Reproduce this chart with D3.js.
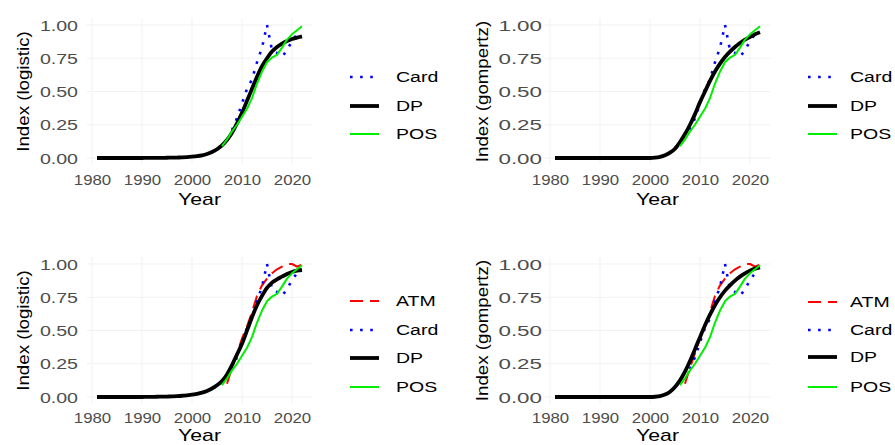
<!DOCTYPE html>
<html><head><meta charset="utf-8">
<script src="https://cdn.jsdelivr.net/npm/d3@7"></script>
<style>body{margin:0;background:#fff}svg{display:block}text{font-family:"Liberation Sans",Arial,sans-serif}</style>
</head><body>
<svg id="c" width="895" height="445"></svg>
<script>
// ---------------- data ----------------
const dpYears = [1981,1982,1983,1984,1985,1986,1987,1988,1989,1990,1991,1992,1993,1994,1995,1996,1997,1998,1999,2000,2001,2002,2003,2004,2005,2006,2007,2008,2009,2010,2011,2012,2013,2014,2015,2016,2017,2018,2019,2020,2021,2022];
const dpLogistic3 = [0,0,0,0,0,0,0,0,0,0,0.0005,0.0007,0.001,0.0013,0.0018,0.0025,0.0035,0.005,0.007,0.01,0.014,0.02,0.03,0.045,0.066,0.095,0.135,0.19,0.26,0.34,0.43,0.52,0.61,0.69,0.75,0.80,0.835,0.86,0.88,0.895,0.905,0.915];
const dpGompertz3 = [0,0,0,0,0,0,0,0,0,0,0,0,0,0,0,0,0,0,0,0,0.002,0.008,0.02,0.04,0.07,0.12,0.18,0.25,0.33,0.42,0.50,0.58,0.65,0.71,0.76,0.80,0.835,0.865,0.89,0.91,0.93,0.945];
const dpLogistic4 = [0,0,0,0,0,0,0,0,0,0,0.001,0.0013,0.0018,0.0025,0.0035,0.005,0.007,0.0095,0.013,0.017,0.024,0.033,0.046,0.064,0.088,0.12,0.17,0.24,0.32,0.40,0.50,0.60,0.69,0.76,0.82,0.86,0.885,0.905,0.925,0.94,0.95,0.955];
const dpGompertz4 = [0,0,0,0,0,0,0,0,0,0,0,0,0,0,0,0,0,0,0,0,0.002,0.007,0.018,0.04,0.075,0.125,0.19,0.27,0.36,0.45,0.54,0.62,0.69,0.75,0.80,0.84,0.875,0.905,0.93,0.95,0.965,0.975];

const cardYears = [2008,2009,2010,2011,2012,2013,2014,2015,2016,2017,2018,2019,2020,2021];
const cardValues = [0.21,0.30,0.41,0.52,0.59,0.72,0.83,1.00,0.81,0.79,0.76,0.81,0.88,0.93];

const posYears = [2006,2007,2008,2009,2010,2011,2012,2013,2014,2015,2016,2017,2018,2019,2020,2021,2022];
const posValues = [0.09,0.14,0.20,0.25,0.31,0.37,0.45,0.56,0.65,0.72,0.755,0.775,0.83,0.89,0.93,0.96,0.99];

const atmYears = [2007,2008,2009,2010,2011,2012,2013,2014,2015,2016,2017,2018,2019,2020,2021,2022];
const atmValues = [0.10,0.22,0.33,0.44,0.53,0.64,0.76,0.84,0.89,0.93,0.96,0.98,1.00,1.00,0.98,0.995];

const xTickValues = [1980,1990,2000,2010,2020];
const xTickLabels = ["1980","1990","2000","2010","2020"];
const yTickValues = [0,0.25,0.5,0.75,1];
const yTickLabels = ["0.00","0.25","0.50","0.75","1.00"];
const yTitles = ["Index (logistic)","Index (gompertz)","Index (logistic)","Index (gompertz)"];
const xTitle = "Year";

// ---------------- styles ----------------
const styles = {
  ATM:  {color:"#ff0000", width:2,   dash:"13,7"},
  Card: {color:"#0000ff", width:2.6, dash:"2.6,7.5"},
  DP:   {color:"#000000", width:3.8, dash:null},
  POS:  {color:"#00ee00", width:2,   dash:null}
};

function series(name, years, vals){ return {name, pts: years.map((y,i)=>({x:y, y:vals[i]}))}; }

const panels = [
  {left:86.75, right:312.25, top:18.35, bottom:164.65, yLabRight:78, ySx:1.4, yTitleX:23, xLabBase:185, titleBase:205, legX:350, legTextX:396, legY:[77,106,134],
   title:yTitles[0], series:[series("Card",cardYears,cardValues), series("DP",dpYears,dpLogistic3), series("POS",posYears,posValues)]},
  {left:544.75, right:770.25, top:18.35, bottom:164.65, yLabRight:542, ySx:1.6, yTitleX:482, xLabBase:185, titleBase:205, legX:808, legTextX:850, legY:[77,106,134],
   title:yTitles[1], series:[series("Card",cardYears,cardValues), series("DP",dpYears,dpGompertz3), series("POS",posYears,posValues)]},
  {left:86.75, right:312.25, top:257.35, bottom:403.65, yLabRight:78, ySx:1.4, yTitleX:23, xLabBase:423, titleBase:441, legX:350, legTextX:396, legY:[301,330,358,387],
   title:yTitles[2], series:[series("ATM",atmYears,atmValues), series("Card",cardYears,cardValues), series("DP",dpYears,dpLogistic4), series("POS",posYears,posValues)]},
  {left:544.75, right:770.25, top:257.35, bottom:403.65, yLabRight:542, ySx:1.6, yTitleX:482, xLabBase:423, titleBase:441, legX:808, legTextX:850, legY:[302,330,357,387],
   title:yTitles[3], series:[series("ATM",atmYears,atmValues), series("Card",cardYears,cardValues), series("DP",dpYears,dpGompertz4), series("POS",posYears,posValues)]}
];

const svg = d3.select("#c");

panels.forEach(p => {
  const x = d3.scaleLinear().domain([1978.95, 2024.05]).range([p.left, p.right]);
  const y = d3.scaleLinear().domain([-0.05, 1.05]).range([p.bottom, p.top]);
  const g = svg.append("g");

  // grid (very faint, as in the reference)
  const grid = g.append("g");
  grid.selectAll(".gx").data(xTickValues).join("line").attr("x1",d=>x(d)).attr("x2",d=>x(d)).attr("y1",p.top).attr("y2",p.bottom).attr("stroke","#f2f2f2").attr("stroke-width",1.1);
  grid.selectAll(".gy").data(yTickValues).join("line").attr("y1",d=>y(d)).attr("y2",d=>y(d)).attr("x1",p.left).attr("x2",p.right).attr("stroke","#f2f2f2").attr("stroke-width",1.1);

  // axes
  const xa = g.append("g").attr("transform",`translate(0,${p.xLabBase})`)
    .call(d3.axisBottom(x).tickValues(xTickValues).tickFormat((d,i)=>xTickLabels[i]).tickSize(0).tickPadding(0));
  xa.select(".domain").remove();
  xa.selectAll("text").attr("y",0).attr("dy",0).attr("fill","#4d4d4d").style("font-size","14px").attr("transform","scale(1.2,1)");

  const ya = g.append("g").attr("transform",`translate(${p.yLabRight},0)`)
    .call(d3.axisLeft(y).tickValues(yTickValues).tickFormat((d,i)=>yTickLabels[i]).tickSize(0).tickPadding(0));
  ya.select(".domain").remove();
  ya.selectAll("text").attr("x",0).attr("dy","0.36em").attr("fill","#4d4d4d").style("font-size","14px").attr("transform",`scale(${p.ySx},1)`);

  // titles
  g.append("text").attr("transform",`translate(${(p.left+p.right)/2},${p.titleBase}) scale(1.25,1)`)
    .attr("text-anchor","middle").style("font-size","17px").attr("fill","#000").text(xTitle);
  g.append("text").attr("transform",`translate(${p.yTitleX},${(p.top+p.bottom)/2}) rotate(-90) scale(1.1,1)`)
    .attr("text-anchor","middle").attr("dy","0.35em").style("font-size","17px").attr("fill","#000").text(p.title);

  // lines
  const line = d3.line().x(d=>x(d.x)).y(d=>y(d.y)).curve(d3.curveMonotoneX);
  const lineRaw = d3.line().x(d=>x(d.x)).y(d=>y(d.y));
  p.series.forEach(s => {
    const st = styles[s.name];
    g.append("path").datum(s.pts).attr("d", s.name==="DP" ? line : lineRaw)
      .attr("fill","none").attr("stroke",st.color).attr("stroke-width",st.width)
      .attr("stroke-dasharray",st.dash).attr("stroke-linejoin","round");
  });

  // legend
  const lg = g.append("g");
  p.series.forEach((s,i) => {
    const st = styles[s.name];
    const yy = p.legY[i];
    lg.append("line").attr("x1",p.legX).attr("x2",p.legX+29).attr("y1",yy).attr("y2",yy)
      .attr("stroke",st.color).attr("stroke-width",st.width).attr("stroke-dasharray",st.dash);
    lg.append("text").attr("transform",`translate(${p.legTextX},${yy}) scale(1.3,1)`)
      .attr("dy","0.36em").style("font-size","15px").attr("fill","#000").text(s.name);
  });
});
</script>
</body></html>
